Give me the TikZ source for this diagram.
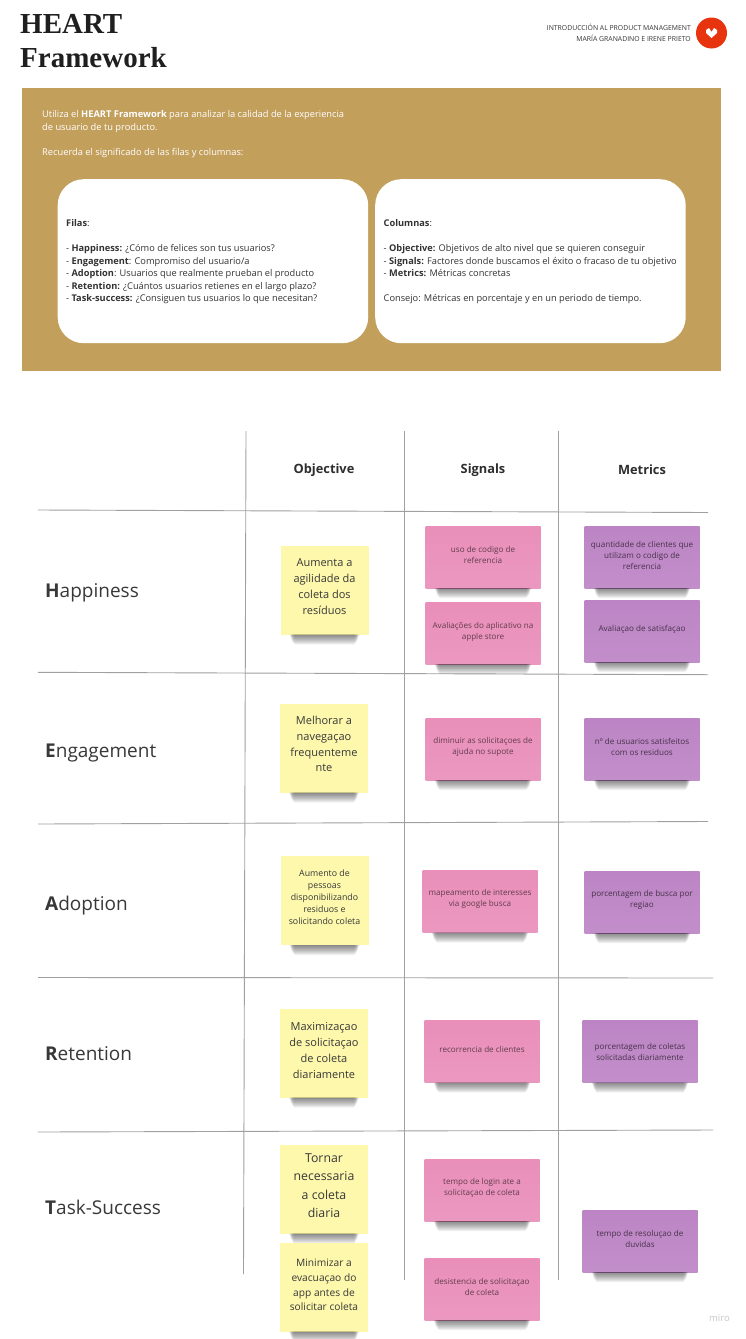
\documentclass[tikz,border=0pt]{standalone}
\usepackage{fontspec}
\setmainfont{Open Sans}
\newfontfamily\titlefont{Liberation Serif}
\definecolor{gold}{HTML}{C39F5C}
\definecolor{ynote}{HTML}{FDF8AC}
\definecolor{pnote}{HTML}{E98FB9}
\definecolor{pnotelt}{HTML}{EB98C0}
\definecolor{vnote}{HTML}{BC84C4}
\definecolor{vnotelt}{HTML}{C28ECA}
\definecolor{gridc}{HTML}{A0A0A0}
\definecolor{logored}{HTML}{E8340E}
\definecolor{inktext}{HTML}{333333}
\tikzset{
  x=1pt,y=-1pt,
  gridline/.style={draw=gridc,line width=0.9pt},
  colhead/.style={font=\bfseries\fontsize{12.8}{15}\selectfont,text=black!82,anchor=center,inner sep=0pt},
  rowhead/.style={font=\fontsize{19}{23}\selectfont,text=black!78,anchor=base west,inner sep=0pt},
  panel/.style={fill=white,rounded corners=26pt,anchor=north west,minimum width=310.5pt,minimum height=164pt,inner sep=0pt},
  paneltext/.style={anchor=north west,align=left,font=\fontsize{9.25}{12.5}\selectfont,text=inktext,inner sep=0pt},
  ynotebox/.style={fill=ynote,minimum width=88pt,minimum height=89pt,inner sep=0pt,anchor=center},
  pnotebox/.style={top color=pnote,bottom color=pnotelt,minimum width=115pt,minimum height=62pt,inner sep=0pt,anchor=center},
  vnotebox/.style={top color=vnote,bottom color=vnotelt,minimum width=115pt,minimum height=62pt,inner sep=0pt,anchor=center},
  ytext/.style={align=center,inner sep=0pt,text=black!78,anchor=center},
  ptext/.style={align=center,inner sep=0pt,text=black!58!pnote,font=\fontsize{8.1}{11}\selectfont,anchor=center},
  vtext/.style={align=center,inner sep=0pt,text=black!62!vnote,font=\fontsize{8.1}{11}\selectfont,anchor=center},
}
% soft shadow under a note, darkest along the middle of its lower edge
\newcommand{\notedrop}[1]{%
  \foreach \h/\i in {10/14,9/13,8/12,7/12,6/11,5/11,4/11,3/10,2/10,1/9,0.5/9}{%
    \fill[black,opacity=0.055,rounded corners=0.8pt]
      ([xshift=\i pt]#1.south west) rectangle ([xshift=-\i pt,yshift=-\h pt]#1.south east);}}
% #1 box style, #2 name, #3 position, #4 text style, #5 upward shift of the text, #6 text
\newcommand{\stickynote}[6]{%
  \node[#1] (#2) at #3 {};
  \notedrop{#2}
  \node[#4] (#2t) at ([yshift=#5]#2.center) {#6};}
\begin{document}
\begin{tikzpicture}
\useasboundingbox (0,0) rectangle (746,1339);
\fill[white] (0,0) rectangle (746,1339);

% header
\node[anchor=north west,align=left,inner sep=0pt,font=\titlefont\bfseries\fontsize{29}{33.2}\selectfont,text=black!88] (title) at (20,14.5) {HEART\\Framework};
\node[anchor=east,align=right,inner sep=0pt,font=\fontsize{6.85}{10.4}\selectfont,text=inktext] (course) at (691,33) {INTRODUCCIÓN AL PRODUCT MANAGEMENT\\MARÍA GRANADINO E IRENE PRIETO};
\node[circle,fill=logored,minimum size=31pt,inner sep=0pt] (logo) at (711.5,33) {};
\fill[white] (706,30) -- (709,28) -- (711.5,32) -- (714,28) -- (717,30) -- (717,33) -- (711.5,38) -- (706,33) -- cycle;

% instruction panel
\fill[gold] (22,88) rectangle (721,371);
\node[anchor=north west,align=left,inner sep=0pt,text=white,font=\fontsize{9.3}{13}\selectfont] (intro) at (42,110) {Utiliza el \textbf{HEART Framework} para analizar la calidad de la experiencia\\de usuario de tu producto.\\[12pt]Recuerda el significado de las filas y columnas:};
\node[panel] (filas) at (57.5,179) {};
\node[panel] (cols) at (375,179) {};
\node[paneltext] (filast) at (66,219.5) {\textbf{Filas}:\\[12.5pt]
- \textbf{Happiness:} ¿Cómo de felices son tus usuarios?\\
- \textbf{Engagement}: Compromiso del usuario/a\\
- \textbf{Adoption}: Usuarios que realmente prueban el producto\\
- \textbf{Retention:} ¿Cuántos usuarios retienes en el largo plazo?\\
- \textbf{Task-success:} ¿Consiguen tus usuarios lo que necesitan?};
\node[paneltext] (colst) at (383.5,219.5) {\textbf{Columnas}:\\[12.5pt]
- \textbf{Objective:} Objetivos de alto nivel que se quieren conseguir\\
- \textbf{Signals:} Factores donde buscamos el éxito o fracaso de tu objetivo\\
- \textbf{Metrics:} Métricas concretas\\[12.5pt]
Consejo: Métricas en porcentaje y en un periodo de tiempo.};

% grid
\draw[gridline] (246,431) -- (243.5,1274);
\draw[gridline] (404.5,431) -- (404.5,1280);
\draw[gridline] (558,431) -- (558,1280);
\draw[gridline] (38,510) -- (708,512.5);
\draw[gridline] (38,672.3) -- (708,674.7);
\draw[gridline] (38,824) -- (708,821.5);
\draw[gridline] (38,977.5) -- (713,978);
\draw[gridline] (38,1132) -- (713,1130);

% headers
\node[colhead] (hobj) at (324,470) {Objective};
\node[colhead] (hsig) at (483,470) {Signals};
\node[colhead] (hmet) at (642,470) {Metrics};
\node[rowhead] (r1) at (45,597) {\textbf{H}appiness};
\node[rowhead] (r2) at (45,757) {\textbf{E}ngagement};
\node[rowhead] (r3) at (45,910) {\textbf{A}doption};
\node[rowhead] (r4) at (45,1060) {\textbf{R}etention};
\node[rowhead] (r5) at (45,1214) {\textbf{T}ask-Success};

% yellow notes
\stickynote{ynotebox}{y1}{(324.5,590)}{ytext,font=\fontsize{11}{15.9}\selectfont}{3.5pt}{Aumenta a\\agilidade da\\coleta dos\\resíduos}
\stickynote{ynotebox}{y2}{(324,748)}{ytext,font=\fontsize{11}{15.9}\selectfont}{4pt}{Melhorar a\\navegaçao\\frequenteme\\nte}
\stickynote{ynotebox}{y3}{(324.5,900.5)}{ytext,font=\fontsize{8.8}{12}\selectfont}{3.5pt}{Aumento de\\pessoas\\disponibilizando\\residuos e\\solicitando coleta}
\stickynote{ynotebox}{y4}{(324,1053)}{ytext,font=\fontsize{11}{15.7}\selectfont}{2.5pt}{Maximizaçao\\de solicitaçao\\de coleta\\diariamente}
\stickynote{ynotebox}{y5}{(324,1189)}{ytext,font=\fontsize{12.3}{18.4}\selectfont}{3.5pt}{Tornar\\necessaria\\a coleta\\diaria}
\stickynote{ynotebox}{y6}{(324,1287)}{ytext,font=\fontsize{10.2}{14.6}\selectfont}{2pt}{Minimizar a\\evacuaçao do\\app antes de\\solicitar coleta}

% pink notes
\stickynote{pnotebox}{p1}{(483,557)}{ptext}{2.5pt}{uso de codigo de\\referencia}
\stickynote{pnotebox}{p2}{(483,633)}{ptext}{1.5pt}{Avaliações do aplicativo na\\apple store}
\stickynote{pnotebox}{p3}{(483,749)}{ptext}{2.5pt}{diminuir as solicitaçoes de\\ajuda no supote}
\stickynote{pnotebox}{p4}{(480,901.5)}{ptext}{2.5pt}{mapeamento de interesses\\via google busca}
\stickynote{pnotebox}{p5}{(482,1051.5)}{ptext}{2.5pt}{recorrencia de clientes}
\stickynote{pnotebox}{p6}{(482,1190)}{ptext}{2.5pt}{tempo de login ate a\\solicitaçao de coleta}
\stickynote{pnotebox}{p7}{(482,1289)}{ptext}{2.5pt}{desistencia de solicitaçao\\de coleta}

% violet notes
\stickynote{vnotebox}{v1}{(642,557)}{vtext}{2pt}{quantidade de clientes que\\utilizam o codigo de\\referencia}
\stickynote{vnotebox}{v2}{(642,631)}{vtext}{2pt}{Avaliaçao de satisfaçao}
\stickynote{vnotebox}{v3}{(642,749)}{vtext}{2.5pt}{nº de usuarios satisfeitos\\com os residuos}
\stickynote{vnotebox}{v4}{(642,902)}{vtext}{2.5pt}{porcentagem de busca por\\regiao}
\stickynote{vnotebox}{v5}{(640,1051.5)}{vtext}{-0.5pt}{porcentagem de coletas\\solicitadas diariamente}
\stickynote{vnotebox}{v6}{(640,1241)}{vtext}{2pt}{tempo de resoluçao de\\duvidas}

\node[anchor=east,inner sep=0pt,font=\fontsize{9.5}{11}\selectfont,text=black!22] (miro) at (730,1318) {miro};
\end{tikzpicture}
\end{document}
